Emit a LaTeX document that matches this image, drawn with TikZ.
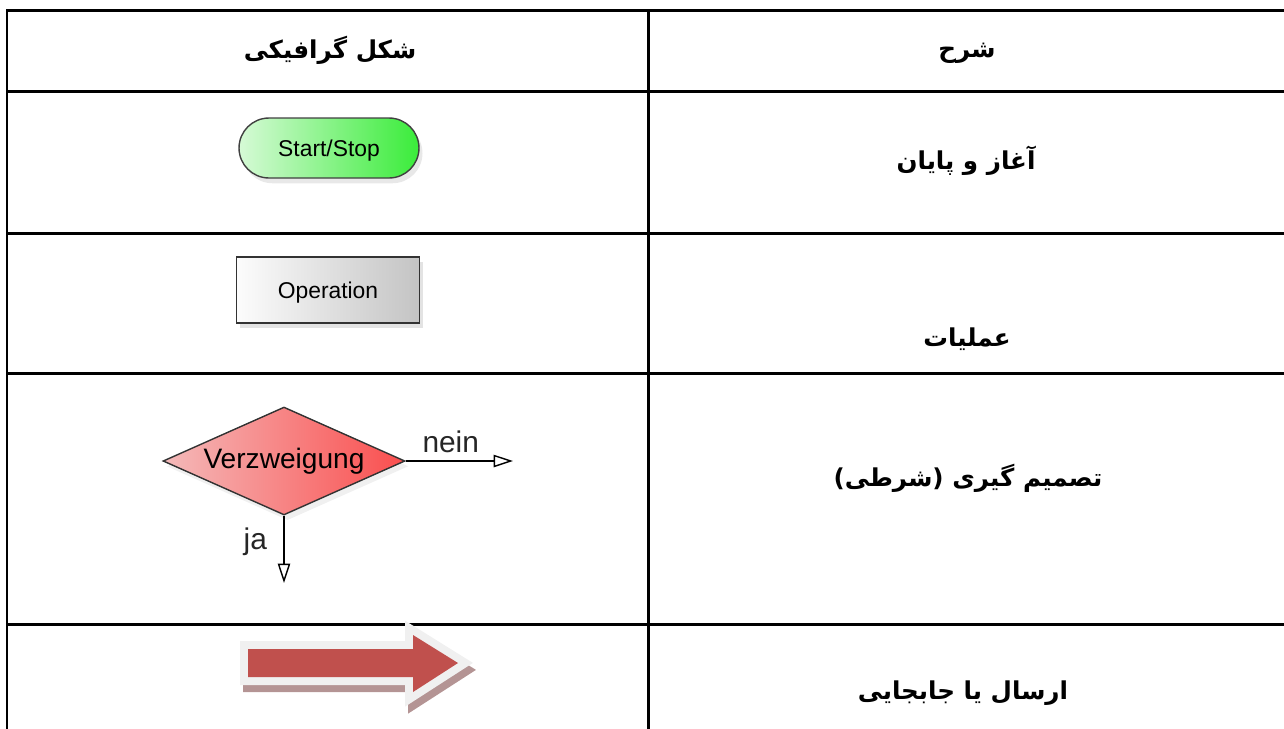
\documentclass[tikz,border=0pt]{standalone}
\usepackage{fontspec}
\setmainfont{Liberation Sans}
\newfontfamily\arabicfont[Script=Arabic]{DejaVu Sans}
\TeXXeTstate=1
\usetikzlibrary{shapes.geometric, arrows.meta, shadows}
\definecolor{startpale}{RGB}{214,250,214}
\definecolor{startgreen}{RGB}{58,236,58}
\definecolor{oppale}{RGB}{252,252,252}
\definecolor{opgray}{RGB}{196,196,196}
\definecolor{decpink}{RGB}{244,186,186}
\definecolor{decred}{RGB}{250,78,78}
\definecolor{sendred}{RGB}{192,80,77}
\definecolor{sendrim}{RGB}{240,240,240}
\definecolor{sendshade}{RGB}{180,148,148}
\newcommand{\fatext}[1]{{\arabicfont\bfseries\beginR #1\endR}}

\begin{document}
\begin{tikzpicture}[
  x=0.02cm, y=-0.02cm,
  rule/.style={line width=1.7pt, black},
  cell/.style={font=\fontsize{14}{16}\selectfont, inner sep=0pt},
  terminal/.style={rectangle, rounded corners=0.6cm, draw=black!75, thick,
    left color=startpale, right color=startgreen,
    minimum width=3.6cm, minimum height=1.2cm, text depth=0pt,
    font=\fontsize{13}{15}\selectfont,
    drop shadow={opacity=0.18, shadow xshift=2pt, shadow yshift=-3pt}},
  process/.style={rectangle, draw=black!80, thick,
    left color=oppale, right color=opgray,
    minimum width=3.66cm, minimum height=1.32cm, text depth=0pt,
    font=\fontsize{13}{15}\selectfont,
    drop shadow={opacity=0.22, shadow xshift=2pt, shadow yshift=-3pt}},
  decision/.style={diamond, aspect=2.24, draw=black!80, thick, inner sep=0pt,
    left color=decpink, right color=decred,
    minimum width=4.84cm, minimum height=2.16cm,
    font=\fontsize{16}{18}\selectfont,
    drop shadow={opacity=0.12, shadow xshift=2pt, shadow yshift=-3pt}},
  flow/.style={-{Triangle[open, length=11pt, width=7pt]}, line width=0.8pt},
  flowlabel/.style={font=\fontsize{17}{19}\selectfont, text=black!85},
  shade/.style={fill=sendshade, draw=sendshade, line width=0.32cm, shift={(3,7)}},
  rim/.style={draw=sendrim, line width=0.32cm},
  body/.style={fill=sendred}
]
\useasboundingbox (0,0) rectangle (1284,728);

% table rules
\foreach \y in {10.5, 91, 233, 373, 624}
  \draw[rule] (6,\y) -- (1290,\y);
\foreach \x in {7, 648}
  \draw[rule] (\x,9.5) -- (\x,740);

% header
\node[cell] (shapehead) at (330,50) {\fatext{شکل گرافیکی}};
\node[cell] (deschead) at (967,53) {\fatext{شرح}};

% descriptions
\node[cell] (startdesc) at (966,161) {\fatext{آغاز و پایان}};
\node[cell] (opdesc) at (967,339) {\fatext{عملیات}};
\node[cell] (decdesc) at (968,478) {\fatext{تصمیم گیری (شرطی)}};
\node[cell] (senddesc) at (963,693) {\fatext{ارسال یا جابجایی}};

% shapes
\node[terminal] (startstop) at (329,148) {Start/Stop};
\node[process] (operation) at (328,290) {Operation};
\node[decision] (branch) at (284,461) {Verzweigung};

\coordinate (neinend) at (513,461);
\coordinate (jaend) at (284,583);
\draw[flow] (branch.east) -- (neinend) node[flowlabel, pos=0.42, above=1pt] {nein};
\draw[flow] (branch.south) -- (jaend) node[flowlabel, pos=0.38, left=6pt] {ja};

% transfer arrow
\foreach \sty in {shade, rim, body}
  \path[\sty] (248,649) -- (413,649) -- (413,635) -- (458,663)
    -- (413,692) -- (413,677) -- (248,677) -- cycle;
\end{tikzpicture}
\end{document}
